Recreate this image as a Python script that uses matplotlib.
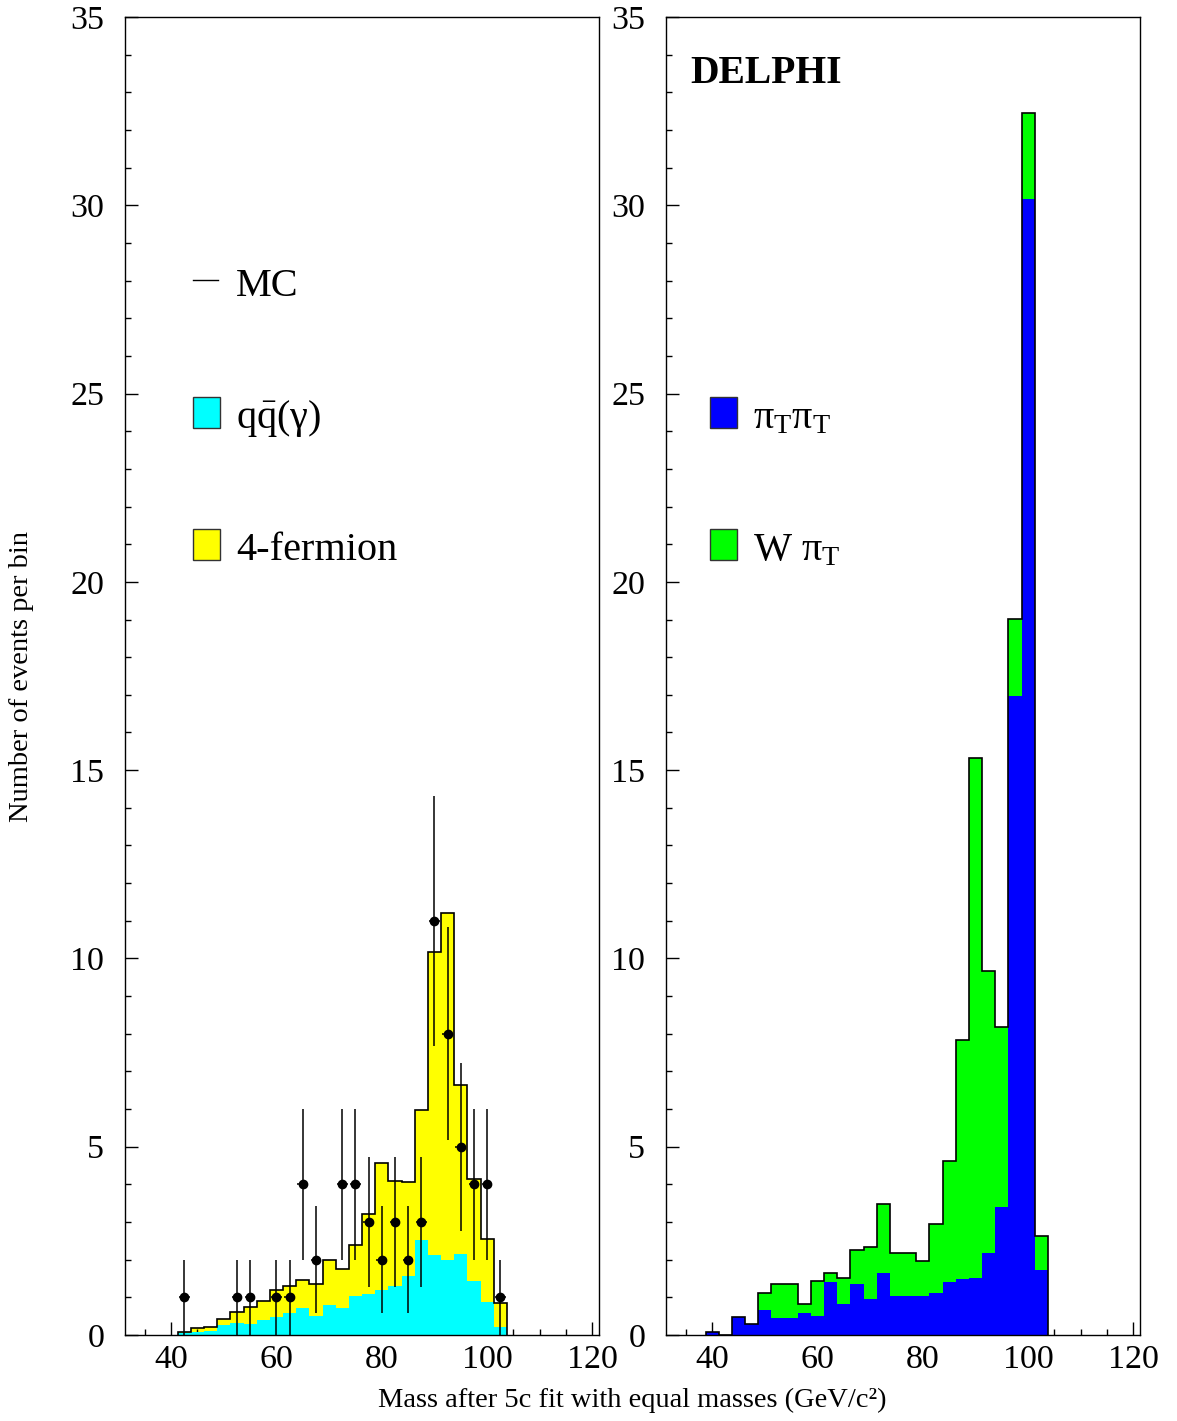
import numpy as np
import matplotlib
matplotlib.use("Agg")
import matplotlib.pyplot as plt
from matplotlib.patches import Rectangle
from matplotlib.ticker import MultipleLocator


# ========================================
# STYLE
# ========================================
plt.rcParams["font.family"] = ["Liberation Serif", "DejaVu Serif"]
plt.rcParams["mathtext.fontset"] = "custom"
plt.rcParams["mathtext.rm"] = "Liberation Serif"
plt.rcParams["mathtext.it"] = "Liberation Serif:italic"
plt.rcParams["mathtext.default"] = "rm"


# ========================================
# HISTOGRAM CONTENTS (2.5 GeV bins)
# ========================================
BIN_WIDTH = 2.5

# left: background MC, first bin 41.25-43.75
left_first_edge = 41.25
qq_gamma = [0.06, 0.09, 0.11, 0.27, 0.32, 0.29, 0.40, 0.49, 0.58, 0.71,
            0.51, 0.80, 0.71, 1.03, 1.09, 1.19, 1.29, 1.58, 2.52, 2.12,
            1.99, 2.14, 1.43, 0.87, 0.20]
four_fermion = [0.03, 0.10, 0.09, 0.16, 0.28, 0.46, 0.50, 0.71, 0.73, 0.76,
                0.84, 1.20, 1.04, 1.35, 2.12, 3.39, 2.79, 2.48, 3.45, 8.05,
                9.22, 4.49, 2.72, 1.67, 0.65]

# data points
data_mass = [42.5, 52.5, 55.0, 60.0, 62.5, 65.0, 67.5, 72.5, 75.0, 77.5,
             80.0, 82.5, 85.0, 87.5, 90.0, 92.5, 95.0, 97.5, 100.0, 102.5]
data_count = [1, 1, 1, 1, 1, 4, 2, 4, 4, 3,
              2, 3, 2, 3, 11, 8, 5, 4, 4, 1]

# right: signal MC, first bin 38.75-41.25
right_first_edge = 38.75
pitpit = [0.07, 0.00, 0.47, 0.29, 0.66, 0.45, 0.45, 0.58, 0.50, 1.41,
          0.82, 1.35, 0.96, 1.64, 1.04, 1.04, 1.04, 1.11, 1.41, 1.48,
          1.51, 2.17, 3.40, 16.97, 30.17, 1.73]
wpit = [0.00, 0.00, 0.00, 0.00, 0.46, 0.90, 0.90, 0.24, 0.93, 0.24,
        0.69, 0.90, 1.39, 1.83, 1.15, 1.15, 0.92, 1.83, 3.20, 6.36,
        13.80, 7.50, 4.77, 2.04, 2.27, 0.91]

x_ticks = [40, 60, 80, 100, 120]
y_ticks = [0, 5, 10, 15, 20, 25, 30, 35]


# ========================================
# FIGURE
# ========================================
W, H = 1177, 1421
fig = plt.figure(figsize=(W / 100, H / 100), dpi=100)

ax_l = fig.add_axes([125 / W, 1 - 1335 / H, 474 / W, 1318 / H])
ax_r = fig.add_axes([666 / W, 1 - 1335 / H, 474 / W, 1318 / H])


def setup_axes(ax):
    ax.set_xlim(31.25, 121.25)
    ax.set_ylim(0, 35)
    ax.set_xticks(x_ticks)
    ax.set_yticks(y_ticks)
    ax.xaxis.set_minor_locator(MultipleLocator(5))
    ax.yaxis.set_minor_locator(MultipleLocator(1))
    ax.tick_params(which="both", direction="in", top=False, right=False,
                   width=1.0, color="black")
    ax.tick_params(which="major", length=9.5, labelsize=24.5)
    ax.tick_params(which="minor", length=4.5)
    ax.tick_params(axis="y", pad=15)
    ax.tick_params(axis="x", pad=7)
    for sp in ax.spines.values():
        sp.set_linewidth(1.0)


def draw_box(ax, x0, y0, color):
    ax.add_patch(Rectangle((x0, y0), 5.1, 0.83, facecolor=color,
                           edgecolor="#333333", linewidth=1.0, zorder=5))


# ========================================
# LEFT PANEL: data vs background
# ========================================
setup_axes(ax_l)

qq_arr = np.array(qq_gamma)
bkg_total = qq_arr + np.array(four_fermion)
edges_l = left_first_edge + BIN_WIDTH * np.arange(len(qq_gamma) + 1)

ax_l.stairs(bkg_total, edges_l, fill=True, color="#ffff00", zorder=1)
ax_l.stairs(qq_arr, edges_l, fill=True, color="#00ffff", zorder=2)
ax_l.stairs(bkg_total, edges_l, baseline=0, color="black",
            linewidth=1.2, zorder=3)

counts = np.array(data_count, dtype=float)
ax_l.errorbar(data_mass, counts, yerr=np.sqrt(counts), xerr=1.0,
              fmt="o", color="black", ms=6.0, elinewidth=1.1,
              capsize=0, zorder=4)

# legend
ax_l.plot([44.14, 48.88], [28.01, 28.01], color="black", lw=1.0)
ax_l.text(52.3, 27.59, "MC", fontsize=29, va="baseline")
draw_box(ax_l, 44.14, 24.08, "#00ffff")
ax_l.text(52.3, 24.08, r"$\mathrm{q\bar{q}}$(γ)", fontsize=29, va="baseline")
draw_box(ax_l, 44.14, 20.58, "#ffff00")
ax_l.text(52.3, 20.58, "4-fermion", fontsize=29, va="baseline")


# ========================================
# RIGHT PANEL: technipion signal
# ========================================
setup_axes(ax_r)

pit_arr = np.array(pitpit)
sig_total = pit_arr + np.array(wpit)
edges_r = right_first_edge + BIN_WIDTH * np.arange(len(pitpit) + 1)

ax_r.stairs(sig_total, edges_r, fill=True, color="#00ff00", zorder=1)
ax_r.stairs(pit_arr, edges_r, fill=True, color="#0000ff", zorder=2)
ax_r.stairs(sig_total, edges_r, baseline=0, color="black",
            linewidth=1.2, zorder=3)

ax_r.text(35.8, 33.24, "DELPHI", fontsize=28.5, fontweight="bold",
          va="baseline")
draw_box(ax_r, 39.6, 24.08, "#0000ff")
ax_r.text(47.74, 24.08, r"$\pi_\mathrm{T}\pi_\mathrm{T}$", fontsize=29,
          va="baseline")
draw_box(ax_r, 39.6, 20.58, "#00ff00")
ax_r.text(47.74, 20.58, r"W $\pi_\mathrm{T}$", fontsize=29, va="baseline")


# ========================================
# AXIS TITLES
# ========================================
fig.text(632 / W, 1 - 1400 / H, "Mass after 5c fit with equal masses (GeV/c²)",
         fontsize=20.5, ha="center", va="center")
fig.text(22 / W, 1 - 676 / H, "Number of events per bin", fontsize=20.5,
         rotation=90, ha="center", va="center")

fig.savefig("out.png", dpi=100)
